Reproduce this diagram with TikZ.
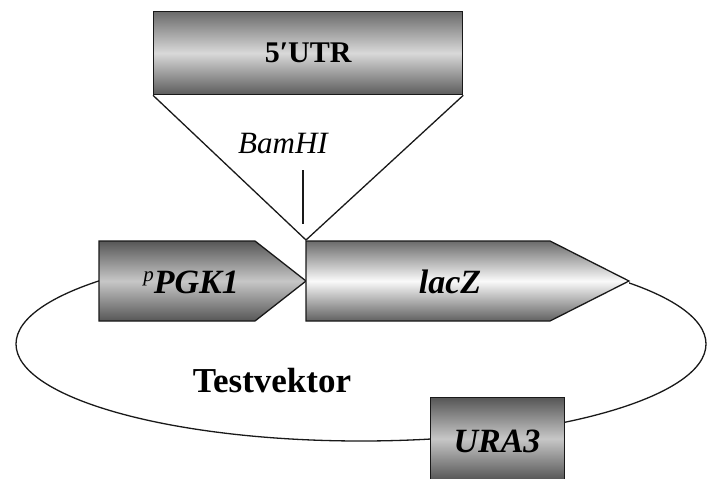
\documentclass[tikz,border=0pt]{standalone}
\usepackage{fontspec}
\setmainfont{Liberation Serif}
\begin{document}
\begin{tikzpicture}[x=1pt,y=-1pt,
  outline/.style={draw=black!90, line width=1.3pt},
  darkbox/.style={outline, top color=black!66, bottom color=black!66, middle color=black!22},
  utrbox/.style={outline, top color=black!58, bottom color=black!64, middle color=black!15},
  lightbox/.style={outline, top color=black!58, bottom color=black!62, middle color=black!2},
  genelabel/.style={anchor=base, font=\fontsize{34}{38}\selectfont\bfseries\itshape},
  thin/.style={line width=1.3pt, draw=black!90}]
\useasboundingbox (0,0) rectangle (707,479);
\clip (0,0) rectangle (707,479);

% plasmid backbone, hidden behind the promoter and reporter
\begin{scope}
  \clip (0,0) rectangle (99,479) (99,300) rectangle (707,479) (629,0) rectangle (707,479);
  \draw[thin] (361,344) ellipse [x radius=345pt, y radius=97pt];
\end{scope}

% insert and cloning site
\node[utrbox, anchor=north west, minimum width=309pt, minimum height=83pt,
      inner sep=0pt, font=\fontsize{30}{34}\selectfont\bfseries] (utr) at (153,11) {5′UTR};
\coordinate (site) at (306,240);
\draw[thin] (utr.south west) -- (site) -- (utr.south east);
\coordinate (tickTop) at (303,170);
\coordinate (tickBot) at (303,224);
\draw[thin] (tickTop) -- (tickBot);
\node[anchor=base, font=\fontsize{31}{34}\selectfont\itshape] (bam) at (283,153) {BamHI};

% promoter
\coordinate (p1) at (99,241);
\coordinate (p2) at (255,241);
\coordinate (p3) at (306,281);
\coordinate (p4) at (255,321);
\coordinate (p5) at (99,321);
\path[darkbox] (p1) -- (p2) -- (p3) -- (p4) -- (p5) -- cycle;
\node[genelabel] (pgk) at (191,293) {\raisebox{12pt}{\fontsize{21}{22}\selectfont\mdseries\itshape p}PGK1};

% reporter gene
\coordinate (l1) at (306,241);
\coordinate (l2) at (550,241);
\coordinate (l3) at (629,281);
\coordinate (l4) at (550,321);
\coordinate (l5) at (306,321);
\path[lightbox] (l1) -- (l2) -- (l3) -- (l4) -- (l5) -- cycle;
\node[genelabel] (lacz) at (450,293) {lacZ};

% selection marker
\node[darkbox, anchor=north west, minimum width=134pt, minimum height=82pt,
      inner sep=0pt] (ura) at (430,397) {};
\node[genelabel] (uralabel) at (497,452) {URA3};

% vector name
\node[anchor=base, font=\fontsize{35}{38}\selectfont\bfseries] (name) at (272,392) {Testvektor};
\end{tikzpicture}
\end{document}
